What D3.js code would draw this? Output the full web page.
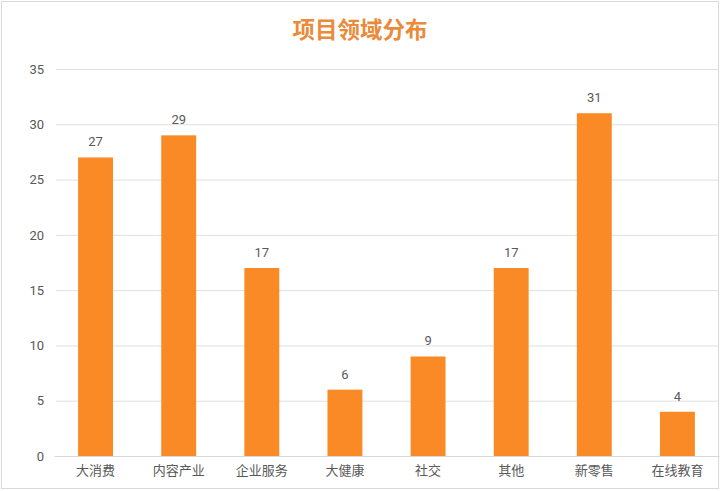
<!DOCTYPE html>
<html><head><meta charset="utf-8">
<script src="https://cdn.jsdelivr.net/npm/d3@7"></script>
<style>body{margin:0;background:#fff;}svg{display:block;font-family:"Noto Sans CJK SC","Noto Sans",sans-serif;}</style>
</head><body>
<svg id="c" width="720" height="491"></svg>
<script>
const title = "项目领域分布";
const categories = ["大消费","内容产业","企业服务","大健康","社交","其他","新零售","在线教育"];
const values = [27,29,17,6,9,17,31,4];
const yTicks = [0,5,10,15,20,25,30,35];

const svg = d3.select("#c");
const W = 720, H = 491;
svg.append("rect").attr("x",1.5).attr("y",1.5).attr("width",W-3).attr("height",H-4)
  .attr("fill","#fff").attr("stroke","#d9d9d9").attr("stroke-width",1);

const x = d3.scaleBand().domain(categories).range([54, 719]).paddingInner(0.58).paddingOuter(0.29);
const y = d3.scaleLinear().domain([0,35]).range([456, 69]);

svg.append("text").attr("x",360).attr("y",38).attr("text-anchor","middle")
  .attr("fill","#E98B3A").attr("font-size",22.5).attr("font-weight","bold").text(title);

const gy = svg.append("g").attr("transform","translate(56,0)")
  .call(d3.axisLeft(y).tickValues(yTicks).tickSize(-(719-56)).tickPadding(12));
gy.select(".domain").remove();
gy.selectAll(".tick line").attr("stroke","#e0e0e0");
gy.selectAll(".tick text").attr("fill","#595959").attr("font-size",13).attr("font-family","Roboto, 'Noto Sans', sans-serif");

svg.append("g").selectAll("rect").data(values).join("rect")
  .attr("x",(d,i)=>x(categories[i])).attr("width",x.bandwidth())
  .attr("y",d=>y(d)).attr("height",d=>y(0)-y(d)).attr("fill","#F98A25");

svg.append("g").selectAll("text").data(values).join("text")
  .attr("x",(d,i)=>x(categories[i])+x.bandwidth()/2).attr("y",d=>y(d)-11)
  .attr("text-anchor","middle").attr("fill","#595959").attr("font-size",13)
  .attr("font-family","Roboto, 'Noto Sans', sans-serif").text(d=>d);

const gx = svg.append("g").attr("transform","translate(0,456)")
  .call(d3.axisBottom(x).tickSize(0).tickPadding(10));
gx.select(".domain").attr("stroke","#d9d9d9");
gx.selectAll(".tick text").attr("fill","#595959").attr("font-size",13)
  .attr("font-family","'Noto Sans CJK SC', sans-serif");
</script>
</body></html>
